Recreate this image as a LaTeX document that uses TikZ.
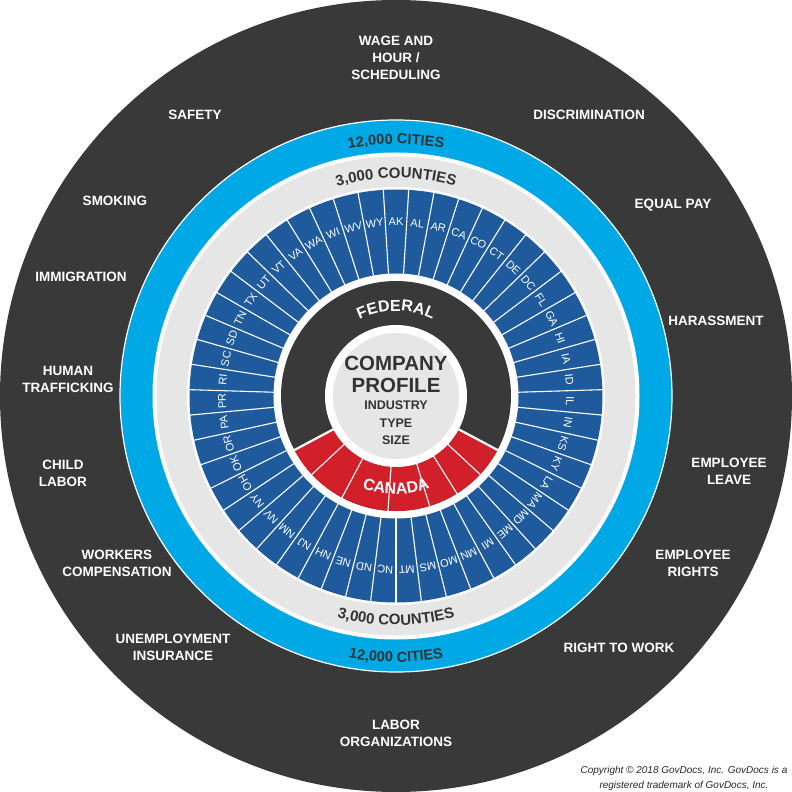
\documentclass[tikz,border=0pt]{standalone}
\usepackage{fontspec}
\setmainfont{Liberation Sans}
\usetikzlibrary{decorations.text}
\definecolor{ringdark}{HTML}{383938}
\definecolor{cityblue}{HTML}{00A9E6}
\definecolor{ringgray}{HTML}{E6E6E6}
\definecolor{stateblue}{HTML}{1F5B9C}
\definecolor{canred}{HTML}{D1202A}
\definecolor{txtdark}{HTML}{333333}
\begin{document}
\begin{tikzpicture}[x=1pt,y=1pt,
  outerlbl/.style={text=white, font=\fontsize{13.5}{17}\selectfont\bfseries, align=center, inner sep=0pt},
  statelbl/.style={text=white, font=\fontsize{11}{11}\selectfont, inner sep=0pt},
  centerbig/.style={text=txtdark, font=\fontsize{20.5}{22}\selectfont\bfseries, inner sep=0pt},
  centersmall/.style={text=txtdark, font=\fontsize{12.5}{13}\selectfont\bfseries, inner sep=0pt},
  sepline/.style={draw=white, line width=1.1pt},
  arctext/.style={decorate, decoration={text along path, text align=center, text color=#1}},
]
\useasboundingbox (-396,-396) rectangle (396,396);
% rings
\fill[ringdark] (0,0) circle (396pt);
\filldraw[fill=cityblue, draw=white, line width=1.2pt] (0,0) circle (276pt);
\fill[white] (0,0) circle (243.5pt);
\fill[ringgray] (0,0) circle (239.5pt);
\fill[white] (0,0) circle (209pt);
\fill[stateblue] (0,0) circle (206.5pt);
\fill[white] (0,0) circle (122.5pt);
\fill[ringdark] (0,0) circle (115pt);
\fill[canred] (208:115pt) arc[start angle=208, end angle=332, radius=115pt]
  -- (332:71pt) arc[start angle=332, end angle=208, radius=71pt] -- cycle;
\fill[white] (0,0) circle (71pt);
\fill[ringgray] (0,0) circle (63pt);
% canada dividers
\foreach \a in {208,332} \draw[white, line width=2.2pt] (\a:70pt) -- (\a:116pt);
\foreach \a in {223,242,266,287,302,317} \draw[sepline] (\a:70pt) -- (\a:116pt);
% state dividers
\foreach \i in {0,...,50} \draw[sepline] ({93.5294-\i*7.0588}:122pt) -- ({93.5294-\i*7.0588}:207pt);
% state labels
\foreach \s [count=\i from 0] in {AK,AL,AR,CA,CO,CT,DE,DC,FL,GA,HI,IA,ID,IL,IN,KS,KY,LA,MA,MD,ME,MI,MN,MO,MS,MT,NC,ND,NE,NH,NJ,NM,NV,NY,OH,OK,OR,PA,PR,RI,SC,SD,TN,TX,UT,VT,VA,WA,WI,WV,WY}
  \node[statelbl, rotate={-\i*7.0588}] (st-\s) at ({90-\i*7.0588}:174pt) {\s};
% curved texts
\path[arctext=txtdark, decoration={text={|\fontsize{14.5}{15}\selectfont\bfseries|12,000 CITIES}}]
  (130:252pt) arc[start angle=130, end angle=50, radius=252pt];
\path[arctext=txtdark, decoration={text={|\fontsize{14.5}{15}\selectfont\bfseries|12,000 CITIES}}]
  (230:266pt) arc[start angle=230, end angle=310, radius=266pt];
\path[arctext=txtdark, decoration={text={|\fontsize{15}{15}\selectfont\bfseries|3,000 COUNTIES}}]
  (130:218pt) arc[start angle=130, end angle=50, radius=218pt];
\path[arctext=txtdark, decoration={text={|\fontsize{15}{15}\selectfont\bfseries|3,000 COUNTIES}}]
  (230:229pt) arc[start angle=230, end angle=310, radius=229pt];
\path[arctext=white, decoration={text={|\fontsize{16}{16}\selectfont\bfseries|FEDERAL}}]
  (150:85pt) arc[start angle=150, end angle=30, radius=85pt];
\path[arctext=white, decoration={text={|\fontsize{16}{16}\selectfont\bfseries|CANADA}}]
  (215:98pt) arc[start angle=215, end angle=325, radius=98pt];
% center
\node[centerbig] (company) at (0,33) {COMPANY};
\node[centerbig] (profile) at (0,11) {PROFILE};
\node[centersmall] (industry) at (0,-9) {INDUSTRY};
\node[centersmall] (type) at (0,-27) {TYPE};
\node[centersmall] (size) at (0,-44) {SIZE};
% outer labels
\node[outerlbl] (wage) at (0,338) {WAGE AND\\HOUR /\\SCHEDULING};
\node[outerlbl] (safety) at (-201,281) {SAFETY};
\node[outerlbl] (discrim) at (193,281) {DISCRIMINATION};
\node[outerlbl] (smoking) at (-281,195) {SMOKING};
\node[outerlbl] (equalpay) at (277,191) {EQUAL PAY};
\node[outerlbl] (immig) at (-315,119) {IMMIGRATION};
\node[outerlbl] (harass) at (320,75) {HARASSMENT};
\node[outerlbl] (human) at (-328,16.5) {HUMAN\\TRAFFICKING};
\node[outerlbl] (child) at (-333,-77.5) {CHILD\\LABOR};
\node[outerlbl] (leave) at (333,-75.5) {EMPLOYEE\\LEAVE};
\node[outerlbl] (workers) at (-279,-167) {WORKERS\\COMPENSATION};
\node[outerlbl] (rights) at (297,-167.5) {EMPLOYEE\\RIGHTS};
\node[outerlbl] (unemp) at (-223,-251.5) {UNEMPLOYMENT\\INSURANCE};
\node[outerlbl] (rtw) at (223,-252) {RIGHT TO WORK};
\node[outerlbl] (laborg) at (0,-337.5) {LABOR\\ORGANIZATIONS};
% copyright
\node[text=black!85, font=\fontsize{10}{15}\selectfont\itshape, align=center, inner sep=0pt] (copy) at (288,-382.5)
  {Copyright \textcopyright{} 2018 GovDocs, Inc. GovDocs is a\\registered trademark of GovDocs, Inc.};
\end{tikzpicture}
\end{document}
